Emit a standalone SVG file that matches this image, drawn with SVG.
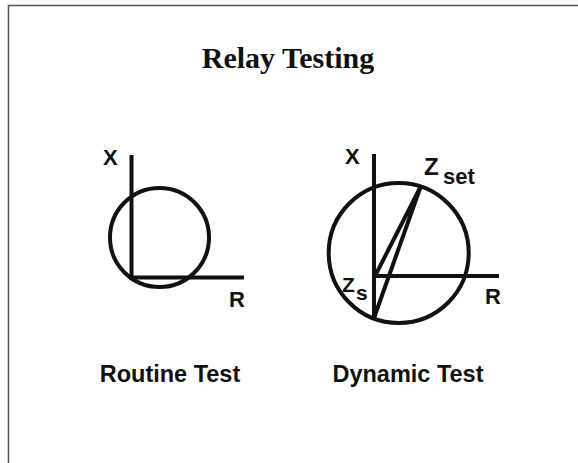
<svg xmlns="http://www.w3.org/2000/svg" width="578" height="463" viewBox="0 0 578 463">
<style>
.frame{fill:none;stroke:#555;stroke-width:1.5}
.ln{fill:none;stroke:#111;stroke-width:4;stroke-linecap:butt}
.title{font-family:"Liberation Serif",serif;font-weight:bold;font-size:30px;fill:#111}
.lbl{font-family:"Liberation Sans",Arial,sans-serif;font-weight:bold;fill:#111}
</style>
<rect width="578" height="463" fill="#fff"/>
<path class="frame" d="M8.5,463 V5.5 H578"/>
<text class="title" x="288" y="68" text-anchor="middle">Relay Testing</text>
<g id="routine">
<circle class="ln" cx="159.5" cy="237.5" r="49.5"/>
<line class="ln" x1="131.5" y1="155" x2="131.5" y2="279.5"/>
<line class="ln" x1="129.5" y1="277.5" x2="244" y2="277.5"/>
<text class="lbl" x="103" y="165" font-size="22">X</text>
<text class="lbl" x="229" y="307" font-size="22">R</text>
<text class="lbl" x="170" y="381.5" font-size="23.5" text-anchor="middle">Routine Test</text>
</g>
<g id="dynamic">
<circle class="ln" cx="398.7" cy="253" r="70"/>
<line class="ln" x1="374" y1="154" x2="374" y2="320"/>
<line class="ln" x1="374" y1="276" x2="499" y2="276"/>
<g id="connectors">
<polyline class="ln" points="375,276 420.5,187 374,318" stroke-linejoin="miter"/>
</g>
<text class="lbl" x="345" y="164" font-size="22">X</text>
<text class="lbl" x="485" y="304" font-size="22">R</text>
<text class="lbl" x="424" y="175" font-size="24">Z</text>
<text class="lbl" x="443" y="183.5" font-size="22">set</text>
<text class="lbl" x="342" y="292" font-size="21">Z</text>
<text class="lbl" x="356" y="300" font-size="21">s</text>
<text class="lbl" x="408" y="381.5" font-size="23.5" text-anchor="middle">Dynamic Test</text>
</g>
</svg>
